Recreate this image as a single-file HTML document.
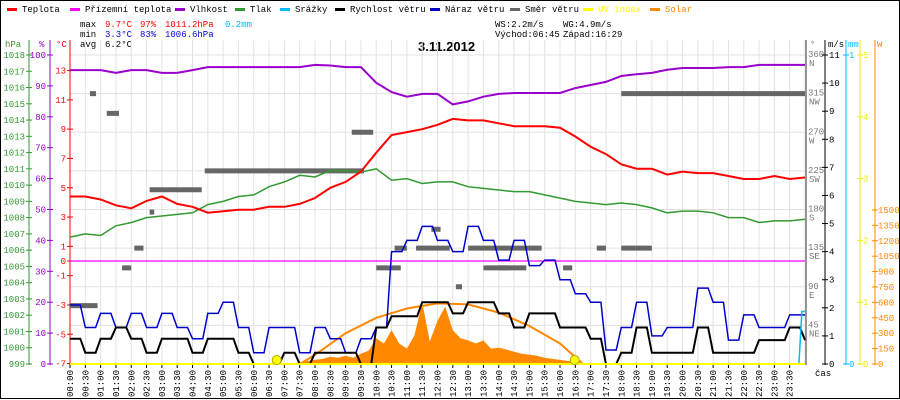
<!DOCTYPE html>
<html><head><meta charset="utf-8"><style>
html,body{margin:0;padding:0;background:#fff}
svg{display:block}
text{font-family:"Liberation Mono",monospace;font-size:9px}
</style></head><body>
<svg id="c" width="900" height="400" viewBox="0 0 900 400">
<rect x="0.5" y="0.5" width="899" height="398" fill="#fff" stroke="#000"/>
<g id="legend"></g>
<g>
<text x="80" y="27" fill="#000">max</text><text x="105" y="27" fill="#f00">9.7°C</text><text x="140" y="27" fill="#f00">97%</text><text x="165" y="27" fill="#f00">1011.2hPa</text><text x="225" y="27" fill="#0bf">0.2mm</text>
<text x="80" y="37" fill="#000">min</text><text x="105" y="37" fill="#00c">3.3°C</text><text x="140" y="37" fill="#00c">83%</text><text x="165" y="37" fill="#00c">1006.6hPa</text>
<text x="80" y="47" fill="#000">avg</text><text x="105" y="47" fill="#000">6.2°C</text>
<text x="495" y="27" fill="#000">WS:2.2m/s</text><text x="563" y="27" fill="#000">WG:4.9m/s</text>
<text x="495" y="37" fill="#000">Východ:06:45</text><text x="563" y="37" fill="#000">Západ:16:29</text>
</g>
<text x="418" y="51" style="font-family:'Liberation Sans',sans-serif;font-size:13px;font-weight:bold">3.11.2012</text>
<g id="grid"></g>
<g id="axes"></g>
<g id="series"></g>
</svg>
<script>
const hours = [0,0.5,1,1.5,2,2.5,3,3.5,4,4.5,5,5.5,6,6.5,7,7.5,8,8.5,9,9.5,10,10.5,11,11.5,12,12.5,13,13.5,14,14.5,15,15.5,16,16.5,17,17.5,18,18.5,19,19.5,20,20.5,21,21.5,22,22.5,23,23.5,24];
const temperature = [4.4,4.4,4.2,3.8,3.6,4.1,4.4,3.9,3.7,3.3,3.4,3.5,3.5,3.7,3.7,3.9,4.3,5.0,5.4,6.1,7.4,8.6,8.8,9.0,9.3,9.7,9.6,9.6,9.4,9.2,9.2,9.2,9.1,8.5,7.8,7.3,6.6,6.3,6.3,5.9,6.1,6.0,6.0,5.8,5.6,5.6,5.8,5.6,5.7];
const feelsLike = [0,0,0,0,0,0,0,0,0,0,0,0,0,0,0,0,0,0,0,0,0,0,0,0,0,0,0,0,0,0,0,0,0,0,0,0,0,0,0,0,0,0,0,0,0,0,0,0,0];
const humidity = [95.1,95.1,95.1,94.2,95.1,95.1,94.2,94.2,95.1,96.1,96.1,96.1,96.1,96.1,96.1,96.1,96.8,96.6,96.1,96.1,91,88,86.5,87.4,87.4,84,85,86.5,87.4,87.7,87.7,87.7,87.7,89.3,90.3,91.3,93.2,93.8,94.2,95.2,95.8,95.8,95.8,96.1,96.1,96.8,96.8,96.8,96.8];
const pressure = [1006.8,1007.0,1006.9,1007.5,1007.7,1008.0,1008.1,1008.2,1008.3,1008.8,1009.0,1009.3,1009.4,1009.9,1010.2,1010.6,1010.5,1010.9,1010.9,1010.8,1011.0,1010.3,1010.4,1010.1,1010.2,1010.2,1009.9,1009.8,1009.7,1009.6,1009.6,1009.4,1009.2,1009.0,1008.9,1008.8,1008.9,1008.8,1008.6,1008.3,1008.4,1008.4,1008.3,1008.0,1008.0,1007.7,1007.8,1007.8,1007.9];
const windSpeed = [0.9,0.4,0.9,1.3,0.9,0.4,0.9,0.9,0.4,0.9,0.9,0.4,0,0,0.4,0,0.4,0.4,0.4,0,1.3,1.7,1.7,2.2,2.2,1.8,2.2,2.2,1.8,1.3,1.8,1.8,1.3,1.3,0.9,0,0.4,1.3,0.4,0.4,0.4,1.3,0.4,0.4,0.4,0.85,0.85,1.3,0.85];
const windGust = [2.1,1.3,1.8,1.3,1.8,1.3,1.8,1.3,0.9,1.8,2.2,1.3,0.4,1.3,1.3,0.4,1.3,0.9,0.4,0.9,1.3,4.0,4.4,4.9,4.4,4.0,4.9,4.4,3.7,4.4,3.5,3.7,3.0,2.5,2.2,0.5,1.3,2.2,1.0,1.3,1.3,2.7,2.2,0.85,1.75,1.3,1.3,1.75,1.75];
const dirStart = [0,0.65,1.2,1.7,2.1,2.6,2.6,4.4,9.2,10.0,10.6,11.3,11.8,13.0,12.6,13.5,14.0,16.1,17.2,18.0,18.0];
const dirEnd =   [0.9,0.85,1.6,2.0,2.4,2.75,4.3,9.6,9.9,10.8,11.0,12.4,12.1,15.4,12.8,14.9,14.3,16.4,17.5,19.0,24.0];
const dirDeg =   [68,315,292,112,135,177,203,225,270,112,135,135,157,135,90,112,112,112,135,135,315];
const solarHours = [7,7.25,7.5,7.75,8,8.25,8.5,8.75,9,9.25,9.5,9.75,10,10.25,10.5,10.75,11,11.25,11.5,11.75,12,12.25,12.5,12.75,13,13.25,13.5,13.75,14,14.25,14.5,14.75,15,15.25,15.5,15.75,16,16.25,16.5,16.75,17];
const solar = [0,5,15,30,40,50,70,60,80,60,100,130,250,200,330,200,150,280,600,220,420,560,330,250,230,200,230,150,160,140,120,100,90,80,60,50,40,30,20,10,0];
const solarMaxHours = [7.5,8,9,10,11,12,13,14,15,16,16.75];
const solarMax = [0,90,300,450,540,590,580,500,370,200,0];
const rainHours = [23.8,23.9,24];
const rain = [0,0.17,0.17];
const sunEvents = [6.75,16.48];
const timeLabels = ["00:00","00:30","01:00","01:30","02:00","02:30","03:00","03:30","04:00","04:30","05:00","05:30","06:00","06:30","07:00","07:30","08:00","08:30","09:00","09:30","10:00","10:30","11:00","11:30","12:00","12:30","13:00","13:30","14:00","14:30","15:00","15:30","16:00","16:30","17:00","17:30","18:00","18:30","19:00","19:30","20:00","20:30","21:00","21:30","22:00","22:30","23:00","23:30"];
const hpaTicks = [999,1000,1001,1002,1003,1004,1005,1006,1007,1008,1009,1010,1011,1012,1013,1014,1015,1016,1017,1018];
const pctTicks = [0,10,20,30,40,50,60,70,80,90,100];
const tempTicks = [-7,-5,-3,-1,0,1,3,5,7,9,11,13];
const dirTicks = [45,90,135,180,225,270,315,360];
const dirNames = ["NE","E","SE","S","SW","W","NW","N"];
const msTicks = [0,1,2,3,4,5,6,7,8,9,10,11];
const mmTicks = [0,1];
const uvTicks = [0,1,2,3,4,5];
const wTicks = [0,150,300,450,600,750,900,1050,1200,1350,1500];

const NS="http://www.w3.org/2000/svg";
const X0=70,X1=805,YT=55,YB=364;
const xs=h=>X0+h*(X1-X0)/24;
const yT=t=>261-t*14.65;
const yH=v=>YB-v*(YB-YT)/100;
const yP=p=>YB-(p-999)*(YB-YT)/19;
const yW=v=>YB-v*(YB-YT)/11;
const yD=d=>YB-d*(YB-YT)/360;
const yS=w=>YB-w*0.1027;
const yUV=u=>YB-u*(YB-YT)/5;
const yMM=m=>YB-m*(YB-YT);
function mk(p,tag,a,txt){const e=document.createElementNS(NS,tag);for(const k in a)e.setAttribute(k,a[k]);if(txt!==undefined)e.textContent=txt;p.appendChild(e);return e;}
const G=document.getElementById('grid'),A=document.getElementById('axes'),S=document.getElementById('series'),L=document.getElementById('legend');

// legend
const legNames=["Teplota","Přízemní teplota","Vlhkost","Tlak","Srážky","Rychlost větru","Náraz větru","Směr větru","UV index","Solar"];
const legCols=["#f00","#f0f","#90c","#393","#0bf","#000","#00c","#666","#ff0","#f80"];
const legX=[7,70,175,235,280,335,430,510,583,650];
for(let i=0;i<legNames.length;i++){
 const l=mk(L,'rect',{x:legX[i],y:8,width:10,height:3,fill:legCols[i]});
 
 
 const t=mk(L,'text',{x:legX[i]+15,y:12,fill:legCols[i]==="#ff0"?"#ff0":(i<5&&i!==0?"#000":"#000")},legNames[i]);
 if(i>=8)t.setAttribute('fill',legCols[i]);
 
 
}

// grid
for(let i=0;i<=48;i++){
 const g=mk(G,'line',{x1:xs(i/2),x2:xs(i/2),y1:40,y2:YB,stroke:"#e4e0e0"});
 
 
}
for(const d of dirTicks){
 const g=mk(G,'line',{x1:X0,x2:X1,y1:yD(d),y2:yD(d),stroke:"#e4e0e0"});
 
 
}

// left axes
function axis(x,col,y0,ticks,fy,lx,anchor,fmt){
 const ln=mk(A,'line',{x1:x,x2:x,y1:40,y2:YB+1,stroke:col});
 
 
 for(const t of ticks){
  const tk=mk(A,'line',{x1:x-3,x2:x+3,y1:fy(t),y2:fy(t),stroke:col});
  
  
  const tx=mk(A,'text',{x:lx,y:fy(t)+3,fill:col,'text-anchor':anchor},fmt?fmt(t):t);
  
  
 }
}
axis(29,"#393",0,hpaTicks,yP,25,"end");
axis(50,"#90c",0,pctTicks,yH,46,"end");
axis(70,"#f00",0,tempTicks,yT,66,"end");
const u1=mk(A,'text',{x:5,y:47,fill:"#393"},"hPa");


const u2=mk(A,'text',{x:39,y:47,fill:"#90c"},"%");


const u3=mk(A,'text',{x:56,y:47,fill:"#f00"},"°C");



// right axes
const dl=mk(A,'line',{x1:806,x2:806,y1:40,y2:YB+1,stroke:"#777",'stroke-width':1.5});


for(let i=0;i<dirTicks.length;i++){
 const y=yD(dirTicks[i]);
 const t1=mk(A,'text',{x:808,y:y+2,fill:"#777"},dirTicks[i]);
 
 
 const t2=mk(A,'text',{x:809,y:y+11,fill:"#777"},dirNames[i]);
 
 
}
axis(825,"#000",0,msTicks,yW,829,"start");
axis(846,"#0bf",0,mmTicks,yMM,849,"start");
axis(860,"#ee0",0,uvTicks,yUV,863,"start");
axis(875,"#f80",0,wTicks,yS,878,"start");
const ru=[["°",810,"#777"],["m/s",828,"#000"],["mm",848,"#0bf"],["W",877,"#f80"]];
for(const r of ru){
 const t=mk(A,'text',{x:r[1],y:47,fill:r[2]},r[0]);
 
 
}
const cas=mk(A,'text',{x:815,y:376,fill:"#000"},"čas");


for(let i=0;i<timeLabels.length;i++){
 const x=xs(i/2);
 const tk=mk(A,'line',{x1:x,x2:x,y1:YB,y2:YB+4,stroke:"#000"});
 
 
 const t=mk(A,'text',{x:0,y:0,fill:"#000",'text-anchor':'end',transform:`translate(${x+3},${370}) rotate(-90)`},timeLabels[i]);
 
 
}

// series helpers
function linePts(hs,vs,fy){return hs.map((h,i)=>xs(h).toFixed(1)+","+fy(vs[i]).toFixed(1)).join(" ");}
function stepPts(hs,vs,fy){let p=[];for(let i=0;i<hs.length;i++){const x=xs(hs[i]),y=fy(vs[i]);p.push(x+","+y);if(i<hs.length-1){p.push((xs(hs[i+1])-5)+","+y);}}return p.join(" ");}

// solar fill
const sa=mk(S,'polygon',{points:xs(solarHours[0])+","+YB+" "+linePts(solarHours,solar,yS)+" "+xs(solarHours[solarHours.length-1])+","+YB,fill:"#f80"});


const sm=mk(S,'polyline',{points:linePts(solarMaxHours,solarMax,yS),fill:"none",stroke:"#f80",'stroke-width':2});



// wind direction
for(let i=0;i<dirDeg.length;i++){
 const r=mk(S,'rect',{x:xs(dirStart[i]),y:yD(dirDeg[i])-2.5,width:xs(dirEnd[i])-xs(dirStart[i]),height:5,fill:"#666"});
 
 
}
const fl=mk(S,'polyline',{points:linePts(hours,feelsLike,yT),fill:"none",stroke:"#f0f",'stroke-width':1.2});


const pl=mk(S,'polyline',{points:linePts(hours,pressure,yP),fill:"none",stroke:"#393",'stroke-width':1.5});


const hl=mk(S,'polyline',{points:linePts(hours,humidity,yH),fill:"none",stroke:"#90c",'stroke-width':2});


const tl=mk(S,'polyline',{points:linePts(hours,temperature,yT),fill:"none",stroke:"#f00",'stroke-width':2});


const gl=mk(S,'polyline',{points:stepPts(hours,windGust,yW),fill:"none",stroke:"#00c",'stroke-width':1.5});


const wl=mk(S,'polyline',{points:stepPts(hours,windSpeed,yW),fill:"none",stroke:"#000",'stroke-width':2});


const rl=mk(S,'polyline',{points:linePts(rainHours,rain,yMM),fill:"none",stroke:"#0bf",'stroke-width':1.5});


const uv=mk(S,'line',{x1:X0,x2:X1,y1:YB,y2:YB,stroke:"#ff0",'stroke-width':2});


for(const h of sunEvents){
 const c=mk(S,'circle',{cx:xs(h),cy:YB-4,r:4.5,fill:"#ff0",stroke:"#aa0"});
 
 
}
</script>
</body></html>
